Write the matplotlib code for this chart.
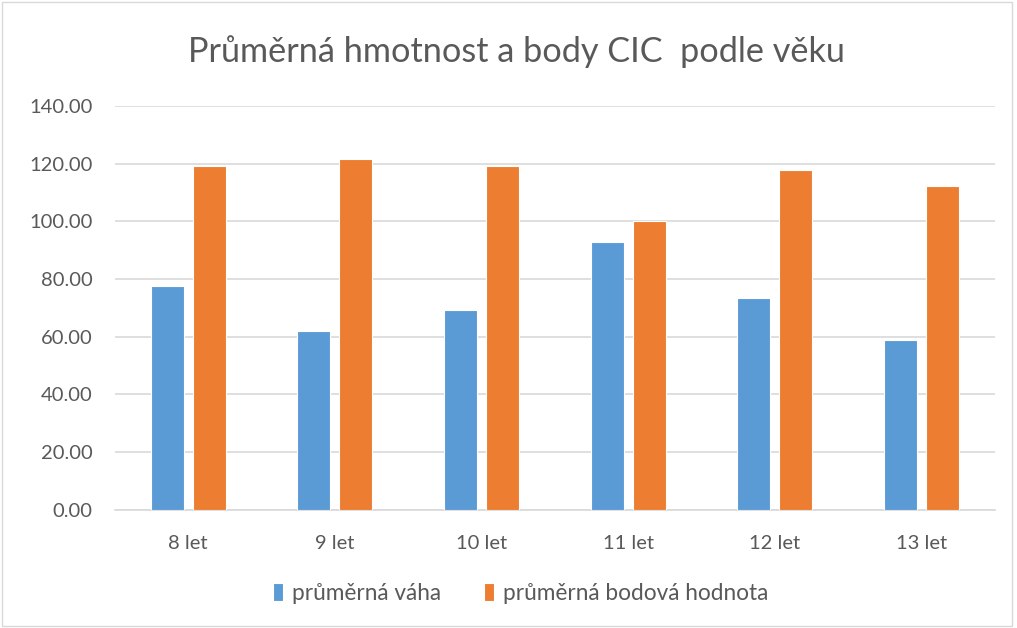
import numpy as np
import matplotlib.pyplot as plt
from matplotlib.patches import Rectangle

# data
categories = ['8 let', '9 let', '10 let', '11 let', '12 let', '13 let']
avg_weight = [77.6, 61.9, 69.4, 92.9, 73.3, 59.0]
avg_points = [119.1, 121.8, 119.4, 100.0, 117.9, 112.2]

blue = '#5B9BD5'
orange = '#ED7D31'
text_col = '#595959'

plt.rcParams['font.family'] = ['Lato', 'DejaVu Sans']

fig = plt.figure(figsize=(10.17, 6.28), dpi=100)
ax = fig.add_axes([0.113, 0.1884, 0.865, 0.6426])

x = np.arange(len(categories))
w = 0.225
off = 0.143
ax.bar(x - off, avg_weight, w, color=blue, edgecolor='white', linewidth=0.8,
       label='průměrná váha', zorder=3)
ax.bar(x + off, avg_points, w, color=orange, edgecolor='white', linewidth=0.8,
       label='průměrná bodová hodnota', zorder=3)

ax.set_xlim(-0.5, len(categories) - 0.5)
ax.set_ylim(0, 140)
ax.set_yticks(np.arange(0, 141, 20))
ax.set_yticklabels([f'{v:.2f}' for v in np.arange(0, 141, 20)])
ax.set_xticks(x)
ax.set_xticklabels(categories)

ax.grid(axis='y', color='#D9D9D9', linewidth=1.2, zorder=0)
for s in ['top', 'right', 'left']:
    ax.spines[s].set_visible(False)
ax.spines['bottom'].set_color('#D9D9D9')
ax.spines['bottom'].set_linewidth(1.2)
ax.tick_params(axis='both', length=0, labelsize=14.5, labelcolor=text_col)
ax.tick_params(axis='y', pad=16)
ax.tick_params(axis='x', pad=18)

fig.text(0.508, 0.918, 'Průměrná hmotnost a body CIC  podle věku',
         ha='center', va='center', fontsize=24.7, color=text_col)

fig.legend(loc='center', bbox_to_anchor=(0.512, 0.055), ncol=2, frameon=False,
           fontsize=16.3, labelcolor=text_col, handlelength=0.45, handleheight=0.8,
           handletextpad=0.4, columnspacing=1.9)

# thin chart-area border
fig.patches.append(Rectangle((0.002, 0.003), 0.993, 0.994, transform=fig.transFigure,
                             fill=False, edgecolor='#D9D9D9', linewidth=1))

fig.savefig('out.png', dpi=100)
